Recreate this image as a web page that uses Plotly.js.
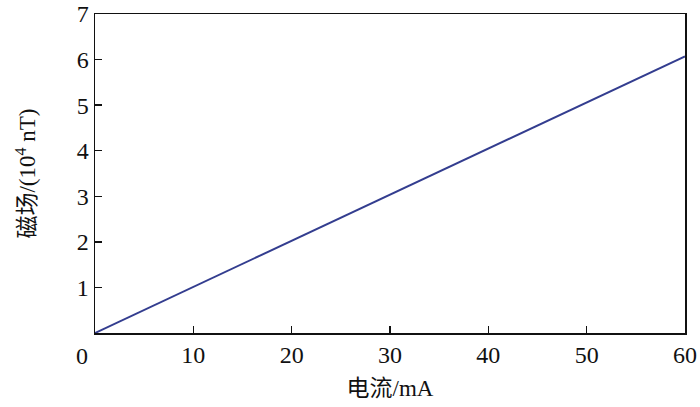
<!DOCTYPE html>
<html>
<head>
<meta charset="utf-8">
<script src="https://cdn.plot.ly/plotly-3.0.1.min.js"></script>
<style>html,body{margin:0;padding:0;background:#fff;}#chart{width:700px;height:407px;}</style>
</head>
<body>
<div id="chart"></div>
<script>
var currentMA = [0, 10, 20, 30, 40, 50, 60];
var fieldVals = [0, 1.01, 2.02, 3.04, 4.05, 5.06, 6.07];
var xTickVals = [10, 20, 30, 40, 50, 60];
var xTickText = ['10', '20', '30', '40', '50', '60'];
var yTickVals = [1, 2, 3, 4, 5, 6, 7];
var yTickText = ['1', '2', '3', '4', '5', '6', '7'];
var xTitle = '电流/mA';
var yTitle = '磁场/(10<sup>4</sup> nT)';

var fontFam = '"Liberation Serif", "Times New Roman", "Noto Sans CJK SC", serif';

var trace = {
  x: currentMA, y: fieldVals, type: 'scatter', mode: 'lines',
  line: {color: '#333d8f', width: 2}, hoverinfo: 'skip'
};

var layout = {
  width: 700, height: 407,
  margin: {l: 95, r: 15, t: 14, b: 74},
  paper_bgcolor: '#fff', plot_bgcolor: '#fff',
  showlegend: false,
  font: {family: fontFam, color: '#111', size: 24},
  xaxis: {
    range: [0, 60], tickvals: xTickVals, ticktext: xTickText,
    ticks: 'inside', ticklen: 7, tickwidth: 1.5, tickcolor: '#111',
    showline: true, linecolor: '#111', linewidth: 1.5, mirror: true,
    showgrid: false, zeroline: false,
    tickfont: {family: fontFam, size: 24, color: '#111'},
    title: {text: xTitle, font: {family: fontFam, size: 23, color: '#111'}, standoff: 12}
  },
  yaxis: {
    range: [0, 7], tickvals: yTickVals, ticktext: yTickText,
    ticks: 'inside', ticklen: 7, tickwidth: 1.5, tickcolor: '#111',
    showline: true, linecolor: '#111', linewidth: 1.5, mirror: true,
    showgrid: false, zeroline: false,
    tickfont: {family: fontFam, size: 24, color: '#111'},
    title: {text: yTitle, font: {family: fontFam, size: 23, color: '#111'}, standoff: 34}
  },
  annotations: [{
    x: 0, y: 0, xref: 'x', yref: 'y', text: '0', showarrow: false,
    xanchor: 'center', yanchor: 'top', xshift: -13, yshift: -8,
    font: {family: fontFam, size: 24, color: '#111'}
  }]
};

Plotly.newPlot('chart', [trace], layout, {displayModeBar: false, staticPlot: true});
</script>
</body>
</html>
